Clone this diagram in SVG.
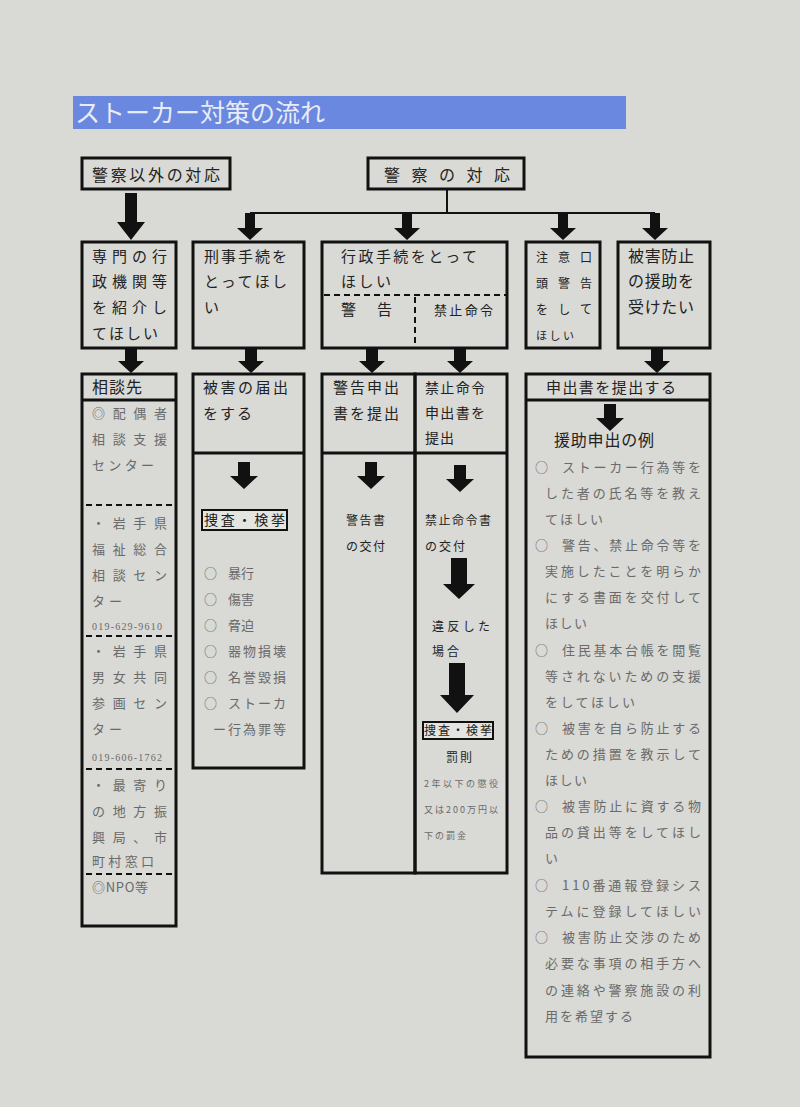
<svg xmlns="http://www.w3.org/2000/svg" width="800" height="1107" viewBox="0 0 800 1107">
<style>
.bx{fill:none;stroke:#111;stroke-width:3}
.dv{stroke:#111;stroke-width:3}
.ds{stroke:#111;stroke-width:2;stroke-dasharray:6,4}
.ln{stroke:#111;stroke-width:2;fill:none}
.ar{fill:#111}
.t{font-family:"Noto Sans CJK JP","Noto Sans",sans-serif;fill:#222}
.m{font-size:15px}
.s{font-size:13px}
.g{font-family:"Noto Sans CJK JP","Noto Sans",sans-serif;fill:#6a6a6a;font-size:13px}
.sm{font-size:9px}
.n{font-family:"Liberation Serif","Noto Sans CJK JP",serif;fill:#6a6a6a;font-size:10px}
</style>
<rect x="0" y="0" width="800" height="1107" fill="#d9d9d5"/>
<rect x="73" y="96" width="553" height="33" fill="#6b88e0"/>
<text x="75" y="122" font-family="Noto Sans CJK JP,sans-serif" font-size="25" fill="#e8ecf7">ストーカー対策の流れ</text>

<g id="connectors">
<path class="ln" d="M447 189V213M250 213H655"/>
<path class="ar" d="M125 193H137V222H145L131 240L117 222H125Z"/>
<path class="ar" d="M245 213H255V228H263L250 240L237 228H245Z"/>
<path class="ar" d="M402 213H412V228H420L407 240L394 228H402Z"/>
<path class="ar" d="M558 213H568V228H576L563 240L550 228H558Z"/>
<path class="ar" d="M650 213H660V228H668L655 240L642 228H650Z"/>
<path class="ar" d="M125 349H137V361H144L131 373L118 361H125Z"/>
<path class="ar" d="M245 349H257V361H264L251 373L238 361H245Z"/>
<path class="ar" d="M366 349H378V361H385L372 373L359 361H366Z"/>
<path class="ar" d="M454 349H466V361H473L460 373L447 361H454Z"/>
<path class="ar" d="M651 349H663V361H670L657 373L644 361H651Z"/>
<path class="ar" d="M238 462H250V476H258L244 489L230 476H238Z"/>
<path class="ar" d="M365 462H377V476H385L371 489L357 476H365Z"/>
<path class="ar" d="M454 465H466V479H474L460 492L446 479H454Z"/>
<path class="ar" d="M451 558H467V584H475L459 599L443 584H451Z"/>
<path class="ar" d="M449 663H465V695H474L457 713L440 695H449Z"/>
<path class="ar" d="M604 404H616V418H624L610 431L596 418H604Z"/>
</g>

<g id="n-keisatsu-igai">
<rect class="bx" x="82" y="158" width="148" height="31"/>
<text class="t" x="92" y="181" font-size="16" textLength="128">警察以外の対応</text>
</g>
<g id="n-keisatsu">
<rect class="bx" x="368" y="158" width="156" height="31"/>
<text class="t" x="384" y="181" font-size="16" textLength="126">警察の対応</text>
</g>

<g id="n-senmon">
<rect class="bx" x="82" y="242" width="94" height="106"/>
<text class="t m" x="92" y="262" textLength="75">専門の行</text>
<text class="t m" x="92" y="287" textLength="75">政機関等</text>
<text class="t m" x="92" y="313" textLength="75">を紹介し</text>
<text class="t m" x="92" y="339" textLength="66">てほしい</text>
</g>
<g id="n-keiji">
<rect class="bx" x="193" y="242" width="111" height="106"/>
<text class="t m" x="204" y="262" textLength="83">刑事手続を</text>
<text class="t m" x="204" y="287" textLength="83">とってほし</text>
<text class="t m" x="204" y="313">い</text>
</g>
<g id="n-gyosei">
<rect class="bx" x="322" y="242" width="185" height="106"/>
<text class="t m" x="341" y="262" textLength="136">行政手続をとって</text>
<text class="t m" x="341" y="287" textLength="50">ほしい</text>
<line class="ds" x1="324" y1="295" x2="506" y2="295"/>
<line class="ds" x1="415" y1="297" x2="415" y2="346"/>
<text class="t m" x="341" y="315">警</text>
<text class="t m" x="377" y="315">告</text>
<text class="t s" x="434" y="315" textLength="59">禁止命令</text>
</g>
<g id="n-chui">
<rect class="bx" x="526" y="242" width="74" height="106"/>
<text class="t" font-size="12" x="536" y="262" textLength="56">注意口</text>
<text class="t" font-size="12" x="536" y="288" textLength="56">頭警告</text>
<text class="t" font-size="12" x="536" y="314" textLength="56">をして</text>
<text class="t" font-size="11" x="536" y="340" textLength="38">ほしい</text>
</g>
<g id="n-higai-boshi">
<rect class="bx" x="618" y="242" width="92" height="106"/>
<text class="t" font-size="16" x="628" y="262" textLength="66">被害防止</text>
<text class="t" font-size="16" x="628" y="287" textLength="66">の援助を</text>
<text class="t" font-size="16" x="628" y="313" textLength="66">受けたい</text>
</g>

<g id="n-sodansaki">
<rect class="bx" x="82" y="374" width="94" height="552"/>
<line class="dv" x1="82" y1="400" x2="176" y2="400"/>
<text class="t" font-size="16" x="92" y="393" textLength="50">相談先</text>
<text class="g" x="92" y="418" textLength="75">◎配偶者</text>
<text class="g" x="92" y="444" textLength="75">相談支援</text>
<text class="g" x="92" y="470" textLength="62">センター</text>
<line class="ds" x1="86" y1="505" x2="174" y2="505"/>
<text class="g" x="92" y="528" textLength="75">・岩手県</text>
<text class="g" x="92" y="554" textLength="75">福祉総合</text>
<text class="g" x="92" y="580" textLength="75">相談セン</text>
<text class="g" x="92" y="606" textLength="30">ター</text>
<text class="n" x="92" y="630" textLength="70">019-629-9610</text>
<line class="ds" x1="86" y1="636" x2="174" y2="636"/>
<text class="g" x="92" y="656" textLength="75">・岩手県</text>
<text class="g" x="92" y="682" textLength="75">男女共同</text>
<text class="g" x="92" y="708" textLength="75">参画セン</text>
<text class="g" x="92" y="734" textLength="30">ター</text>
<text class="n" x="92" y="761" textLength="70">019-606-1762</text>
<line class="ds" x1="86" y1="769" x2="174" y2="769"/>
<text class="g" x="92" y="790" textLength="75">・最寄り</text>
<text class="g" x="92" y="816" textLength="75">の地方振</text>
<text class="g" x="92" y="842" textLength="75">興局、市</text>
<text class="g" x="92" y="866" textLength="62">町村窓口</text>
<line class="ds" x1="86" y1="874" x2="174" y2="874" stroke-width="2.5"/>
<text class="g" x="92" y="892" textLength="56">◎NPO等</text>
</g>

<g id="n-todokede">
<rect class="bx" x="193" y="374" width="111" height="394"/>
<line class="dv" x1="193" y1="453" x2="304" y2="453"/>
<text class="t m" x="203" y="393" textLength="85">被害の届出</text>
<text class="t m" x="203" y="419" textLength="49">をする</text>
<rect x="202" y="510" width="85" height="20" fill="#e4e4e0" stroke="#111" stroke-width="2"/>
<text class="t" font-size="14" x="204" y="525" textLength="81">捜査・検挙</text>
<text class="g" x="204" y="578">○</text>
<text class="g" x="228" y="578" textLength="26">暴行</text>
<text class="g" x="204" y="604">○</text>
<text class="g" x="228" y="604" textLength="26">傷害</text>
<text class="g" x="204" y="630">○</text>
<text class="g" x="228" y="630" textLength="26">脅迫</text>
<text class="g" x="204" y="656">○</text>
<text class="g" x="228" y="656" textLength="58">器物損壊</text>
<text class="g" x="204" y="682">○</text>
<text class="g" x="228" y="682" textLength="58">名誉毀損</text>
<text class="g" x="204" y="708">○</text>
<text class="g" x="228" y="708" textLength="58">ストーカ</text>
<text class="g" x="213" y="734" textLength="73">ー行為罪等</text>
</g>

<g id="n-keikoku">
<rect class="bx" x="322" y="374" width="93" height="499"/>
<line class="dv" x1="322" y1="453" x2="415" y2="453"/>
<text class="t m" x="333" y="393" textLength="66">警告申出</text>
<text class="t m" x="333" y="419" textLength="66">書を提出</text>
<text class="t" font-size="12" x="346" y="525" textLength="39">警告書</text>
<text class="t" font-size="12" x="346" y="551" textLength="39">の交付</text>
</g>

<g id="n-kinshi">
<rect class="bx" x="415" y="374" width="92" height="499"/>
<line class="dv" x1="415" y1="453" x2="507" y2="453"/>
<text class="t" font-size="14" x="425" y="393" textLength="60">禁止命令</text>
<text class="t" font-size="14" x="425" y="418" textLength="60">申出書を</text>
<text class="t" font-size="14" x="425" y="443" textLength="29">提出</text>
<text class="t" font-size="12" x="425" y="525" textLength="66">禁止命令書</text>
<text class="t" font-size="12" x="425" y="551" textLength="40">の交付</text>
<text class="t" font-size="12" x="432" y="631" textLength="58">違反した</text>
<text class="t" font-size="12" x="432" y="656" textLength="27">場合</text>
<rect x="423" y="722" width="70" height="17" fill="#e4e4e0" stroke="#111" stroke-width="2"/>
<text class="t" font-size="12" x="424" y="735" textLength="68">捜査・検挙</text>
<text class="t" font-size="12" x="446" y="762" textLength="26">罰則</text>
<text class="g sm" x="424" y="787" textLength="74">2年以下の懲役</text>
<text class="g sm" x="424" y="813" textLength="74">又は200万円以</text>
<text class="g sm" x="424" y="839" textLength="42">下の罰金</text>
</g>

<g id="n-moshide">
<rect class="bx" x="526" y="374" width="184" height="683"/>
<line class="dv" x1="526" y1="400" x2="710" y2="400"/>
<text class="t m" x="546" y="393" textLength="130">申出書を提出する</text>
<text class="t" font-size="16" x="554" y="446" textLength="100">援助申出の例</text>
<text class="g" x="535" y="472">○</text>
<text class="g" x="562" y="472" textLength="139">ストーカー行為等を</text>
<text class="g" x="545" y="498" textLength="156">した者の氏名等を教え</text>
<text class="g" x="545" y="524" textLength="58">てほしい</text>
<text class="g" x="535" y="550">○</text>
<text class="g" x="562" y="550" textLength="139">警告、禁止命令等を</text>
<text class="g" x="545" y="576" textLength="156">実施したことを明らか</text>
<text class="g" x="545" y="602" textLength="156">にする書面を交付して</text>
<text class="g" x="545" y="628" textLength="42">ほしい</text>
<text class="g" x="535" y="655">○</text>
<text class="g" x="562" y="655" textLength="139">住民基本台帳を閲覧</text>
<text class="g" x="545" y="681" textLength="156">等されないための支援</text>
<text class="g" x="545" y="707" textLength="90">をしてほしい</text>
<text class="g" x="535" y="733">○</text>
<text class="g" x="562" y="733" textLength="139">被害を自ら防止する</text>
<text class="g" x="545" y="759" textLength="156">ための措置を教示して</text>
<text class="g" x="545" y="785" textLength="42">ほしい</text>
<text class="g" x="535" y="811">○</text>
<text class="g" x="562" y="811" textLength="139">被害防止に資する物</text>
<text class="g" x="545" y="837" textLength="156">品の貸出等をしてほし</text>
<text class="g" x="545" y="863">い</text>
<text class="g" x="535" y="890">○</text>
<text class="g" x="562" y="890" textLength="139">110番通報登録シス</text>
<text class="g" x="545" y="916" textLength="156">テムに登録してほしい</text>
<text class="g" x="535" y="942">○</text>
<text class="g" x="562" y="942" textLength="139">被害防止交渉のため</text>
<text class="g" x="545" y="968" textLength="156">必要な事項の相手方へ</text>
<text class="g" x="545" y="995" textLength="156">の連絡や警察施設の利</text>
<text class="g" x="545" y="1021" textLength="88">用を希望する</text>
</g>
</svg>
